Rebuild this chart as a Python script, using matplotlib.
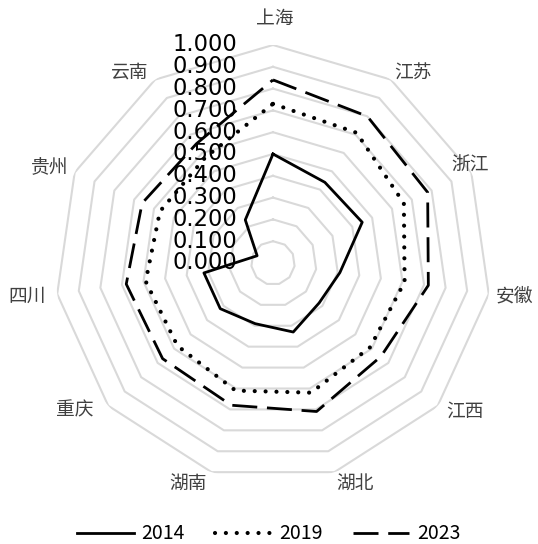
"""Radar chart: 2014 / 2019 / 2023 index by province."""

import numpy as np
import matplotlib
matplotlib.use("Agg")
from matplotlib import pyplot as plt

categories = ["上海", "江苏", "浙江", "安徽", "江西", "湖北", "湖南", "重庆", "四川", "贵州", "云南"]
v2014 = [0.50, 0.44, 0.45, 0.31, 0.28, 0.33, 0.29, 0.32, 0.32, 0.08, 0.235]
v2019 = [0.73, 0.71, 0.66, 0.61, 0.59, 0.62, 0.61, 0.58, 0.59, 0.57, 0.575]
v2023 = [0.84, 0.80, 0.78, 0.72, 0.655, 0.71, 0.68, 0.67, 0.68, 0.66, 0.65]
years = ["2014", "2019", "2023"]
r_ticks = [0.0, 0.1, 0.2, 0.3, 0.4, 0.5, 0.6, 0.7, 0.8, 0.9, 1.0]

# where each category label sits, pixels from the chart centre (x right, y up)
label_offsets = [(2, 245), (140, 190), (197, 98), (242, -33), (192, -148), (82, -220),
                 (-85, -220), (-198, -147), (-246, -33), (-223, 95), (-143, 191)]

cjk = ["Noto Sans CJK SC", "DejaVu Sans"]

fig = plt.figure(figsize=(5.38, 5.44), dpi=100)
ax = fig.add_axes([0.1022, 0.1158, 0.8104, 0.8015], projection="polar")
ax.set_theta_zero_location("N")
ax.set_theta_direction(-1)
ax.set_ylim(0, 1)
ax.set_axis_off()

n = len(categories)
angles = np.linspace(0, 2 * np.pi, n, endpoint=False)
closed = np.append(angles, angles[0])

# polygon grid rings
for r in r_ticks[1:]:
    ax.plot(closed, [r] * (n + 1), color="#d9d9d9", lw=1.5, zorder=1)

# series
styles = [
    dict(ls="-", lw=2.0),
    dict(ls=(0, (0.01, 2.6)), lw=3.0, dash_capstyle="round"),
    dict(ls=(0, (9, 3.5)), lw=2.0),
]
for vals, name, st in zip([v2014, v2019, v2023], years, styles):
    ax.plot(closed, np.append(vals, vals[0]), color="black", label=name, zorder=3, **st)

# radial tick labels, stacked left of the top spoke
for r in r_ticks:
    ax.annotate(f"{r:.3f}", xy=(0, r), xytext=(-36, 0), textcoords="offset pixels",
                ha="right", va="center", fontsize=16.3, color="black",
                family="DejaVu Sans", zorder=4)

# category labels
for name, (dx, dy) in zip(categories, label_offsets):
    ax.annotate(name, xy=(0, 0), xytext=(dx, dy), textcoords="offset pixels",
                ha="center", va="center", fontsize=13.5, color="#404040", family=cjk)

fig.legend(loc="lower center", bbox_to_anchor=(0.5, -0.033), ncol=3, frameon=False,
           handlelength=2.9, handletextpad=0.4, columnspacing=1.55,
           prop={"family": cjk, "size": 14})

fig.savefig("out.png", dpi=100)
